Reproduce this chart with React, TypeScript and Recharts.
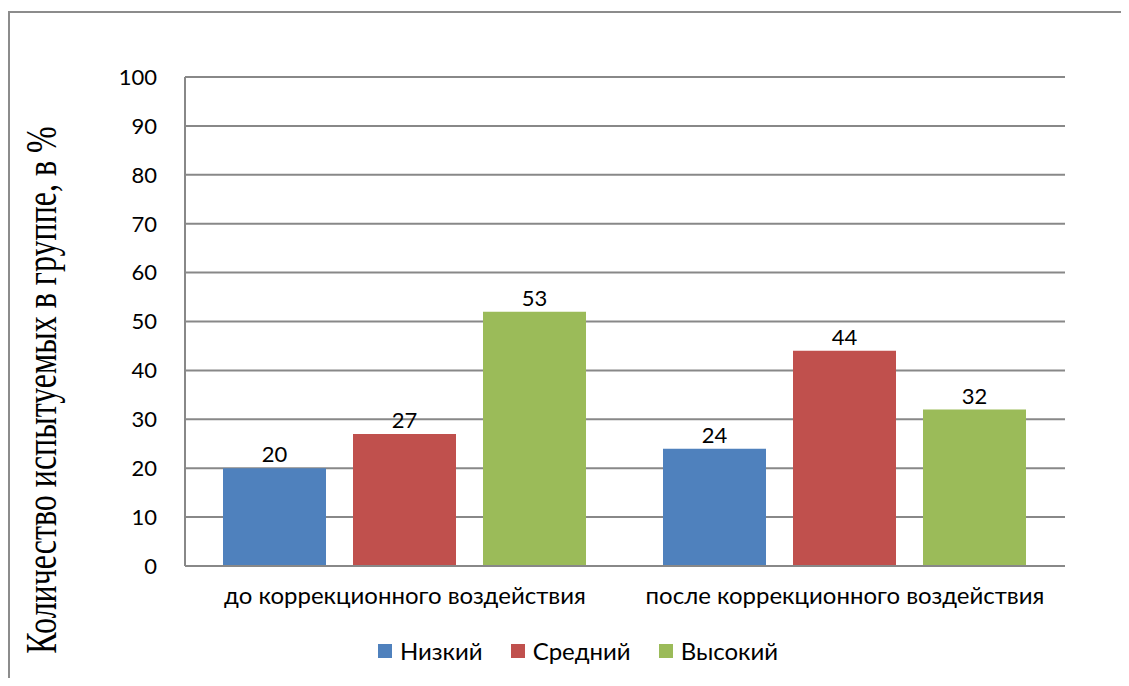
import React from 'react';
import { BarChart, Bar, XAxis, YAxis, CartesianGrid, Legend, LabelList, Label } from 'recharts';

const categories = ['до коррекционного воздействия', 'после коррекционного воздействия'];
const lowValues = [20, 24];
const midValues = [27, 44];
const highValues = [52, 32];
const lowLabels = ['20', '24'];
const midLabels = ['27', '44'];
const highLabels = ['53', '32'];
const yTicks = [0, 10, 20, 30, 40, 50, 60, 70, 80, 90, 100];

const series = [
  { key: 'low', name: 'Низкий', color: '#4F81BD', labels: lowLabels },
  { key: 'mid', name: 'Средний', color: '#C0504D', labels: midLabels },
  { key: 'high', name: 'Высокий', color: '#9BBB59', labels: highLabels },
];

const data = categories.map((name, i) => ({
  name,
  low: lowValues[i],
  mid: midValues[i],
  high: highValues[i],
}));

const FONT = 'Lato, "Open Sans", sans-serif';
const GRID = '#888888';
const FRAME = '#8c8c8c';

const LegendBox = () => (
  <div style={{ display: 'flex', justifyContent: 'center', paddingLeft: 47, fontFamily: FONT, fontSize: 24, color: '#000' }}>
    {series.map((s) => (
      <div key={s.key} style={{ display: 'flex', alignItems: 'center', marginRight: 28 }}>
        <span style={{ width: 14, height: 14, background: s.color, display: 'inline-block', marginRight: 8 }} />
        <span>{s.name}</span>
      </div>
    ))}
  </div>
);

const YTitle = () => (
  <text
    transform="translate(48, 382) rotate(-90) scale(1, 1.4)"
    textAnchor="middle"
    fontFamily='"Liberation Serif", "DejaVu Serif", serif'
    fontSize={32}
    fill="#000"
  >
    Количество испытуемых в группе, в %
  </text>
);

export default function App() {
  return (
    <div style={{ position: 'relative', width: 1121, height: 670, overflow: 'hidden' }}>
      <style>{'html, body { overflow: hidden; }'}</style>
      {/* рамка вокруг диаграммы: только верх и лево попадают в кадр */}
      <div style={{ position: 'absolute', left: 0, top: 3, width: 1121, height: 2, background: FRAME }} />
      <div style={{ position: 'absolute', left: 0, top: 3, width: 2, height: 667, background: FRAME }} />
      <BarChart
        width={1121}
        height={670}
        data={data}
        margin={{ top: 69, right: 64, left: 0, bottom: 0 }}
        barCategoryGap={38}
        barGap={27}
      >
        <CartesianGrid vertical={false} stroke={GRID} strokeWidth={2} />
        <XAxis
          dataKey="name"
          height={112}
          tickLine={false}
          tickSize={0}
          tickMargin={21}
          axisLine={{ stroke: GRID, strokeWidth: 2 }}
          tick={{ fontFamily: FONT, fontSize: 24, fill: '#000' }}
        />
        <YAxis
          width={177}
          domain={[0, 100]}
          ticks={yTicks}
          interval={0}
          tickLine={false}
          tickSize={0}
          tickMargin={28}
          axisLine={{ stroke: GRID, strokeWidth: 2 }}
          tick={{ fontFamily: FONT, fontSize: 22, fill: '#000' }}
        >
          <Label content={<YTitle />} />
        </YAxis>
        <Legend
          layout="horizontal"
          verticalAlign="middle"
          align="center"
          wrapperStyle={{ top: 628, left: 0, width: 1121 }}
          content={<LegendBox />}
        />
        {series.map((s) => (
          <Bar key={s.key} dataKey={s.key} name={s.name} fill={s.color} isAnimationActive={false}>
            <LabelList
              dataKey={s.key}
              position="top"
              content={(props: any) => {
                const { x, y, width, index } = props;
                return (
                  <text x={x + width / 2} y={y - 6} textAnchor="middle" fontFamily={FONT} fontSize={22} fill="#000">
                    {s.labels[index]}
                  </text>
                );
              }}
            />
          </Bar>
        ))}
      </BarChart>
    </div>
  );
}
